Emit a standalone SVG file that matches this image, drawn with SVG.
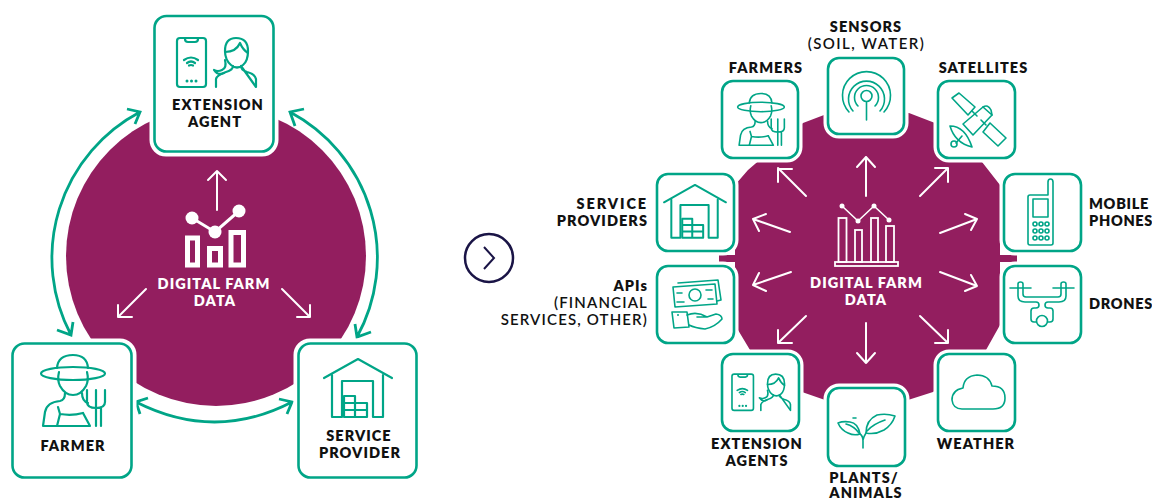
<svg xmlns="http://www.w3.org/2000/svg" width="1152" height="499" viewBox="0 0 1152 499">
<style>
text{font-family:"Lato","Liberation Sans",sans-serif;font-weight:800;font-size:14.500px;letter-spacing:1.050px;fill:#111;text-anchor:middle}
.w{fill:#fff}
.m{font-weight:600;font-size:15px;letter-spacing:1.150px}
.s{text-anchor:end}
.b{text-anchor:start;letter-spacing:.7px}
.halo{fill:#fff;stroke:#fff;stroke-width:9}
.card{fill:#fff;stroke:#00a587;stroke-width:2.600}
.ic{fill:none;stroke:#00a587;stroke-width:2.200;stroke-linecap:round;stroke-linejoin:round}
.ic2{fill:none;stroke:#00a587;stroke-width:1.600;stroke-linecap:round;stroke-linejoin:round}
.cyc{fill:none;stroke:#00a587;stroke-width:2.800}
.arr{fill:none;stroke:#fff;stroke-width:2;stroke-linecap:round;stroke-linejoin:round}
.disc{fill:#931e5f}
.dot{fill:#00a587;stroke:none}
</style>
<defs>
<g id="farmer" class="ic">
<ellipse cx="73" cy="373.500" rx="32" ry="6.500"/>
<path d="M57,368Q58,355 73,355Q87,355 88,368"/>
<path d="M59,372Q57,380 60,386Q65,395 73,395Q81,395 86,386Q89,380 87,372"/>
<path d="M65,393Q65,400 60,401Q47,402 45,412L43,426H90L83,413M82,393Q82,401 88,403"/>
<path d="M57,426L60,414Q72,416 83,413M58,407L60,414"/>
<path d="M87,390V402Q87,408 96,408Q105,408 105,402V390M96,390V426M101,408V426"/>
</g>
<g id="agent" class="ic">
<rect x="177" y="38" width="29" height="49" rx="3"/>
<path d="M185,39Q185,42 188,42H195Q198,42 198,39"/>
<path d="M184,60Q191,55 198,60M187,63Q191,60 195,63M189,65.500Q191,64.500 193,65.500"/>
<circle class="dot" cx="187" cy="81" r="1.500"/><circle class="dot" cx="191.500" cy="81" r="1.500"/><circle class="dot" cx="196" cy="81" r="1.500"/>
<path d="M225,51Q225,38 236,38Q248,38 248,51Q248,61 243,65Q237,70 231,65Q225,60 225,51"/>
<path d="M225,52Q236,52 240,43Q243,50 248,53"/>
<path d="M225,60Q227,68 222,70Q218,72 214,70Q218,76 224,73"/>
<path d="M216,87V79Q217,75 226,72Q233,70 233,66M241,66Q241,70 247,72Q255,74 256,79V87Z"/>
</g>
<g id="house" class="ic">
<path d="M324,378L358,359L392,378"/>
<path d="M332,375V417H342V381H373V417H383V375"/>
<path d="M344,396H355V403H367V417H344ZM344,403H355M344,410H367M355,403V417"/>
</g>
</defs>

<g id="left-disc"><circle class="disc" cx="216" cy="256" r="150"/></g>
<path id="right-disc" class="disc" d="M824,115L803,123L748,170L735,185V255H719V262H735V325L750,350L802,392L825,400H908L933,392L986,350L1000,325V262H1017V255H1000V185L982,162L935,123L909,113Z"/>

<g id="connectors">
<path class="cyc" d="M140,112A165,165 0 0 0 71,335M127,109L140,112L135,124M57,330L71,335L73,322"/>
<path class="cyc" d="M290,112A165,165 0 0 1 357,337M304,109L290,112L295,126M371,332L357,337L355,324"/>
<path class="cyc" d="M136,402Q215,442 292,402M148,398L136,402L140,414M279,399L292,402L287,414"/>
<path class="arr" d="M217,210V171M208,180L217,171L226,180"/>
<path class="arr" d="M146,289L118,317M118,305V317H132"/>
<path class="arr" d="M282,289L310,317M310,305V317H297"/>
<path class="arr" d="M866,196V157M857,167L866,157L875,167"/>
<path class="arr" d="M866,323V363M857,353L866,363L875,353"/>
<path class="arr" d="M806,196L778,168M792,169H778V182"/>
<path class="arr" d="M920,196L948,168M935,168H948V182"/>
<path class="arr" d="M940,233L977,219M965,214L977,219L971,230"/>
<path class="arr" d="M940,272L977,286M965,291L977,286L971,275"/>
<path class="arr" d="M920,316L948,343M935,343H948V330"/>
<path class="arr" d="M790,232L753,219M766,214L753,219L759,231"/>
<path class="arr" d="M791,272L753,285M766,291L753,285L759,273"/>
<path class="arr" d="M806,316L778,343M792,343H778V330"/>
</g>

<g id="center-left">
<path fill="none" stroke="#fff" stroke-width="3" d="M192,218L215,232L239,211"/>
<circle class="w" cx="192" cy="218" r="6.500"/><circle class="w" cx="215" cy="232" r="6.500"/><circle class="w" cx="239" cy="211" r="6.500"/>
<g fill="none" stroke="#fff" stroke-width="5"><rect x="187.500" y="238" width="10" height="27"/><rect x="209.500" y="248.500" width="11" height="16.500"/><rect x="231" y="232.500" width="12.500" height="32.500"/></g>
<text class="w" x="214" y="289">DIGITAL FARM</text><text class="w" x="215" y="306">DATA</text>
</g>

<g id="center-right">
<path fill="none" stroke="#fff" stroke-width="1.600" d="M842,206L858,221L874,206L889,220"/>
<circle class="w" cx="842" cy="206" r="2.500"/><circle class="w" cx="858" cy="221" r="2.500"/><circle class="w" cx="874" cy="206" r="2.500"/><circle class="w" cx="889" cy="220" r="2.500"/>
<g fill="none" stroke="#fff" stroke-width="1.800"><rect x="838.500" y="218" width="8" height="44"/><rect x="855" y="230" width="7" height="32"/><rect x="871" y="218" width="7" height="44"/><rect x="886" y="226" width="8" height="36"/><rect x="835" y="262" width="63" height="4"/></g>
<text class="w" x="866.500" y="288">DIGITAL FARM</text><text class="w" x="866" y="305">DATA</text>
</g>

<g id="next" fill="none" stroke="#1a1446"><circle cx="489" cy="258" r="24" stroke-width="2.500"/><path d="M484,247L494,258L484,269" stroke-width="2"/></g>

<g id="extension-agent"><rect class="halo" x="154" y="16" width="120" height="136" rx="12"/><rect class="card" x="154.500" y="16" width="119" height="135.500" rx="12"/><use href="#agent"/><text x="218" y="110">EXTENSION</text><text x="215" y="127">AGENT</text></g>
<g id="farmer-node"><rect class="halo" x="12" y="343" width="120" height="135" rx="12"/><rect class="card" x="12.500" y="343.500" width="119" height="134" rx="12"/><use href="#farmer"/><text x="73" y="451">FARMER</text></g>
<g id="service-provider"><rect class="halo" x="298" y="343" width="119" height="135" rx="12"/><rect class="card" x="298.500" y="343.500" width="118" height="134" rx="12"/><use href="#house"/><text x="359" y="441">SERVICE</text><text x="360" y="458">PROVIDER</text></g>

<g id="sensors"><rect class="halo" x="828" y="58" width="76" height="76" rx="11"/><rect class="card" x="828" y="58" width="76" height="76" rx="11"/>
<g class="ic2"><circle cx="866.500" cy="96" r="5.500"/><path d="M866.500,102V120M858,106A12,12 0 1 1 875,106M853,111A18,18 0 1 1 880,111M849,112A24,24 0 1 1 884,112"/></g>
<text x="866" y="32">SENSORS</text><text class="m" x="866.500" y="49" style="letter-spacing:1.450px">(SOIL, WATER)</text></g>

<g id="farmers"><rect class="halo" x="722" y="81" width="76" height="77" rx="11"/><rect class="card" x="722" y="81" width="76" height="77" rx="11"/><use href="#farmer" transform="translate(707.700 -165.700) scale(.73)"/><text x="766" y="73">FARMERS</text></g>

<g id="satellites"><rect class="halo" x="938" y="81" width="77" height="77" rx="11"/><rect class="card" x="938" y="81" width="77" height="77" rx="11"/>
<g class="ic2"><path d="M952,98L959,93L975,107L968,115Z"/><path d="M983,132L990,123L1006,138L998,146Z"/><path d="M983,107L992,115L973,135L963,124Z"/><path d="M972,111L977,116M986,125L981,120M983,107Q988,104 991,110L992,115"/><path d="M950,126Q965,126 972,147Q955,143 950,126Z"/><path d="M956,143L962,136"/><circle cx="954" cy="144" r="3"/></g>
<text x="983.500" y="73">SATELLITES</text></g>

<g id="service-providers"><rect class="halo" x="657" y="174" width="77" height="77" rx="11"/><rect class="card" x="657" y="174" width="77" height="77" rx="11"/><use href="#house" transform="translate(369.200 -141.700) scale(.91)"/><text class="s" x="648" y="209" style="letter-spacing:1.900px">SERVICE</text><text class="s" x="648" y="226">PROVIDERS</text></g>

<g id="apis"><rect class="halo" x="657" y="266" width="77" height="77" rx="11"/><rect class="card" x="657" y="266" width="77" height="77" rx="11"/>
<g class="ic2"><path d="M673,287L715,284L717,304L675,307Z"/><path d="M678,283L718,280L721,300L717,301"/><circle cx="695" cy="295" r="6"/><path d="M677,293H682M677,302H684M706,290H712M708,299H713"/><path d="M672,312L687,312L689,327L674,328Z"/><circle class="dot" cx="678" cy="315" r="1"/><path d="M687,315Q697,311 707,317H697M707,317L716,314Q722,315 722,319Q715,327 705,329Q695,328 689,325"/></g>
<text class="s" x="648" y="291">APIs</text><text class="s m" x="648" y="308">(FINANCIAL</text><text class="s m" x="648" y="325">SERVICES, OTHER)</text></g>

<g id="mobile-phones"><rect class="halo" x="1004" y="174" width="77" height="77" rx="11"/><rect class="card" x="1004" y="174" width="77" height="77" rx="11"/>
<g class="ic2"><path d="M1048,195V182Q1048,179 1050.500,179Q1053,179 1053,182V243Q1053,245 1051,245H1030Q1028,245 1028,243V197Q1028,195 1030,195Z"/><rect x="1033" y="199" width="15" height="18"/>
<circle cx="1035" cy="224" r="2"/><circle cx="1041" cy="224" r="2"/><circle cx="1047" cy="224" r="2"/><circle cx="1035" cy="231" r="2"/><circle cx="1041" cy="231" r="2"/><circle cx="1047" cy="231" r="2"/><circle cx="1035" cy="238" r="2"/><circle cx="1041" cy="238" r="2"/><circle cx="1047" cy="238" r="2"/></g>
<text class="b" x="1089" y="209">MOBILE</text><text class="b" x="1089" y="226">PHONES</text></g>

<g id="drones"><rect class="halo" x="1004" y="266" width="77" height="77" rx="11"/><rect class="card" x="1004" y="266" width="77" height="77" rx="11"/>
<g class="ic2"><path d="M1010,288H1031M1053,288H1074"/><circle cx="1042" cy="321" r="5.500"/>
<path d="M1018,288V296Q1018,302 1025,302H1036Q1039,302 1039,305Q1039,308 1036,308H1034Q1031,308 1031,311V319Q1031,322 1034,322H1036.500M1047.500,322H1050Q1053,322 1053,319V311Q1053,308 1050,308H1048Q1045,308 1045,305Q1045,302 1048,302H1059Q1066,302 1066,296V288"/>
<path d="M1018,288V284Q1018,282 1020.500,282Q1023,282 1023,284V294Q1023,297 1026,297H1058Q1061,297 1061,294V284Q1061,282 1063.500,282Q1066,282 1066,284V288"/></g>
<text class="b" x="1089" y="309">DRONES</text></g>

<g id="extension-agents"><rect class="halo" x="722" y="354" width="77" height="77" rx="11"/><rect class="card" x="722" y="354" width="77" height="77" rx="11"/><use href="#agent" transform="translate(601 346) scale(.74)"/><text x="757" y="449">EXTENSION</text><text x="757" y="466">AGENTS</text></g>

<g id="plants"><rect class="halo" x="828" y="388" width="77" height="78" rx="11"/><rect class="card" x="828" y="388" width="77" height="78" rx="11"/>
<g class="ic2"><path d="M863,448V441Q863,436 860,434M863,440Q864,436 866,433"/><path d="M866,433Q866,420 877,415Q886,413 895,416Q892,425 884,430Q875,435 866,433Z"/><path d="M867,431Q873,424 885,420"/><path d="M860,434Q858,423 850,422Q843,421 838,423Q841,430 848,433Q854,436 860,434Z"/><path d="M859,433Q854,426 846,424M853,418H856"/></g>
<text x="864" y="483">PLANTS/</text><text x="866" y="498">ANIMALS</text></g>

<g id="weather"><rect class="halo" x="938" y="354" width="77" height="77" rx="11"/><rect class="card" x="938" y="354" width="77" height="77" rx="11"/>
<path class="ic2" d="M962,409H993Q1005,409 1005,398Q1005,386 992,386Q989,375 977,375Q964,376 963,388Q952,390 952,400Q953,409 962,409Z"/>
<text x="976" y="449">WEATHER</text></g>
</svg>
